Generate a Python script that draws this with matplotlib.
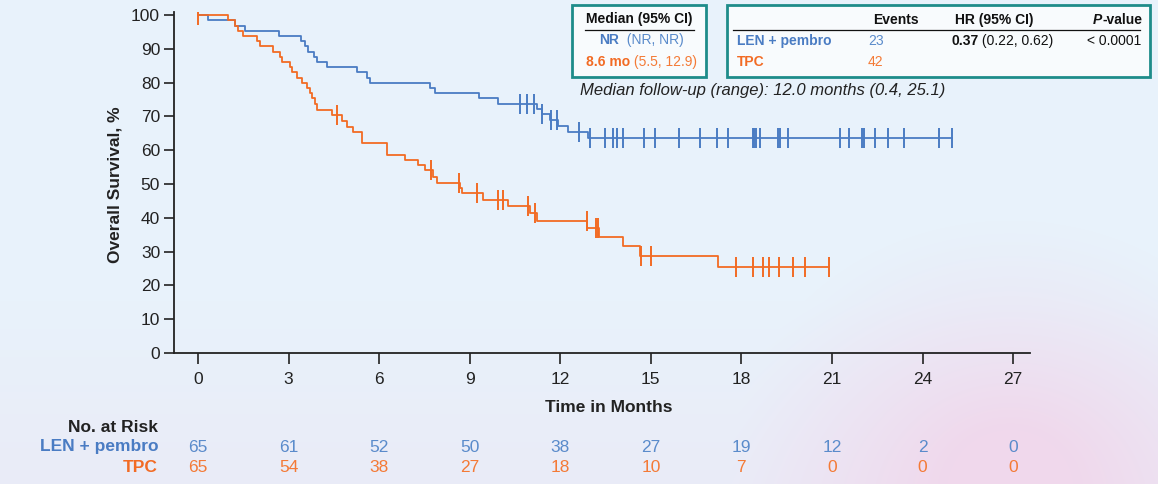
import numpy as np
import matplotlib
matplotlib.use('Agg')
import matplotlib.pyplot as plt
import matplotlib.text
from matplotlib import font_manager
from matplotlib.transforms import blended_transform_factory
from matplotlib.patches import Rectangle
from matplotlib.lines import Line2D

# ---------------- data ----------------
len_event_t = [0.33, 1.23, 1.56, 2.68, 3.41, 3.55, 3.66, 3.84, 3.95, 4.26, 5.26, 5.59, 5.70,
               7.67, 7.85, 9.31, 9.95, 11.22, 11.39, 11.66, 11.93, 12.27, 12.93]
len_surv = [98.5, 96.9, 95.4, 93.8, 92.3, 90.8, 89.2, 87.7, 86.2, 84.6, 83.1, 81.5, 80.0,
            78.5, 76.9, 75.4, 73.8, 72.2, 70.6, 68.9, 67.1, 65.4, 63.6]
len_censor_t = [10.67, 10.89, 11.13, 11.41, 11.70, 11.88, 12.63, 12.99, 13.49, 13.74, 13.87,
                14.09, 14.78, 15.14, 15.94, 16.63, 17.19, 17.57, 18.38, 18.42, 18.47, 18.62,
                19.20, 19.28, 19.53, 21.27, 21.58, 21.99, 22.07, 22.43, 22.87, 23.39, 24.53, 24.99]
len_end = 24.99

tpc_event_t = [1.00, 1.23, 1.34, 1.50, 1.94, 2.05, 2.50, 2.72, 2.77, 3.05, 3.10, 3.27, 3.44,
               3.60, 3.71, 3.77, 3.88, 3.93, 4.43, 4.76, 4.93, 5.15, 5.42, 6.25, 6.86, 7.30,
               7.52, 7.80, 7.91, 8.68, 8.74, 9.45, 10.28, 11.00, 11.22, 12.90, 13.27, 14.09,
               14.65, 17.24]
tpc_surv = [98.5, 96.9, 95.4, 93.8, 92.3, 90.8, 89.2, 87.7, 86.2, 84.6, 83.1, 81.5, 80.0,
            78.5, 76.9, 75.4, 73.8, 71.9, 70.4, 68.5, 67.0, 65.5, 62.0, 58.6, 57.2, 55.6,
            54.1, 52.2, 50.4, 48.7, 47.2, 45.3, 43.4, 41.3, 39.2, 36.9, 34.2, 31.6,
            28.8, 25.4]
tpc_censor_t = [0.0, 4.59, 7.71, 8.65, 9.23, 9.95, 10.09, 10.94, 11.17, 12.88, 13.20, 13.24,
                14.68, 15.01, 17.83, 18.38, 18.71, 18.93, 19.26, 19.70, 20.11, 20.89]
tpc_end = 20.89

x_ticks = [0, 3, 6, 9, 12, 15, 18, 21, 24, 27]
y_ticks = [0, 10, 20, 30, 40, 50, 60, 70, 80, 90, 100]
risk_len = [65, 61, 52, 50, 38, 27, 19, 12, 2, 0]
risk_tpc = [65, 54, 38, 27, 18, 10, 7, 0, 0, 0]

# ---------------- styling ----------------
BLUE = '#4a7cc3'
ORANGE = '#f26b24'
BLUE_T = '#5a8bcb'
ORANGE_T = '#f47a36'
TEAL = '#1e8c8a'

names = {f.name for f in font_manager.fontManager.ttflist}
REG = 'Liberation Sans' if 'Liberation Sans' in names else 'DejaVu Sans'
NAR = 'Liberation Sans Narrow' if 'Liberation Sans Narrow' in names else REG

W, H = 1158, 484
fig = plt.figure(figsize=(W / 100, H / 100), dpi=100)


def fx(x):
    return x / W


def fy(y):
    return 1 - y / H


# background gradient
bg = fig.add_axes([0, 0, 1, 1], zorder=-10)
yy, xx = np.mgrid[0:H, 0:W]
base = np.array([232, 242, 251]) / 255.0
pink = np.array([240, 216, 236]) / 255.0
d = np.sqrt(((xx - 1010) / 280.0) ** 2 + ((yy - 470) / 250.0) ** 2)
w = np.clip(1 - d, 0, 1) ** 1.1
w2 = np.clip((yy - 300) / 184.0, 0, 1) * 0.25
wt = np.clip(w + w2, 0, 1)[..., None]
img = base * (1 - wt) + pink * wt
bg.imshow(img, aspect='auto', extent=[0, 1, 0, 1], origin='upper')
bg.axis('off')

ax = fig.add_axes([fx(174), fy(353), fx(1030) - fx(174), fy(12) - fy(353)])
ax.set_facecolor('none')
ax.set_xlim(-0.795, 27.56)
ax.set_ylim(0, 100.9)


def draw_km(ev_t, surv, cen_t, end, color):
    t = np.array([0.0] + list(ev_t) + [end])
    s = np.array([100.0] + list(surv) + [surv[-1]])
    ax.plot(t, s, drawstyle='steps-post', color=color, lw=1.3, zorder=3)
    idx = np.searchsorted(t[:-1], np.array(cen_t), side='right') - 1
    cy = s[idx]
    ax.plot(cen_t, cy, ls='none', marker='|', ms=14, mew=1.4, color=color, zorder=3)


draw_km(len_event_t, len_surv, len_censor_t, len_end, BLUE)
draw_km(tpc_event_t, tpc_surv, tpc_censor_t, tpc_end, ORANGE)

for sp in ['top', 'right']:
    ax.spines[sp].set_visible(False)
for sp in ['left', 'bottom']:
    ax.spines[sp].set_linewidth(1.3)
    ax.spines[sp].set_color('#222222')

ax.set_xticks(x_ticks)
ax.set_yticks(y_ticks)
ax.tick_params(axis='y', length=7, width=1.2, pad=3, labelsize=12.5, colors='#222222')
ax.tick_params(axis='x', length=8, width=1.2, pad=6, labelsize=12.5, colors='#222222')
for lab in ax.get_yticklabels():
    lab.set_fontfamily(REG)
for lab in ax.get_xticklabels():
    lab.set_fontfamily(NAR)

fig.text(fx(115), fy(185), 'Overall Survival, %', rotation=90, ha='center', va='center',
         fontsize=12.5, fontweight='bold', family=REG, color='#222222')
fig.text(fx(609), fy(407), 'Time in Months', ha='center', va='center',
         fontsize=12.5, fontweight='bold', family=NAR, color='#222222')

# at-risk table
fig.text(fx(158), fy(427), 'No. at Risk', ha='right', va='center', fontsize=12.5,
         fontweight='bold', family=NAR, color='#222222')
fig.text(fx(158), fy(447), 'LEN + pembro', ha='right', va='center', fontsize=12.5,
         fontweight='bold', family=NAR, color=BLUE)
fig.text(fx(158), fy(467), 'TPC', ha='right', va='center', fontsize=12.5,
         fontweight='bold', family=NAR, color=ORANGE)
tr = blended_transform_factory(ax.transData, fig.transFigure)
for xt, a, b in zip(x_ticks, risk_len, risk_tpc):
    ax.text(xt, fy(447), str(a), transform=tr, ha='center', va='center', fontsize=12.5,
            family=NAR, color=BLUE_T, clip_on=False)
    ax.text(xt, fy(467), str(b), transform=tr, ha='center', va='center', fontsize=12.5,
            family=NAR, color=ORANGE_T, clip_on=False)

# legend boxes
for (x0, x1) in [(572, 706), (727, 1150)]:
    fig.patches.append(Rectangle((fx(x0), fy(77)), fx(x1) - fx(x0), fy(5) - fy(77),
                                 transform=fig.transFigure, facecolor='#f8fbfd',
                                 edgecolor=TEAL, lw=2, zorder=5))

FS = 10


def chain(x, y, parts, ha='left'):
    last = None
    for i, (txt, col, wt, st) in enumerate(parts):
        if i == 0:
            last = fig.text(fx(x), fy(y), txt, ha='left', va='center', fontsize=FS,
                            family=NAR, color=col, fontweight=wt, fontstyle=st, zorder=6)
        else:
            last = fig.add_artist(matplotlib.text.Annotation(
                txt, xy=(1, 0), xycoords=last, xytext=(0, 0), textcoords='offset points',
                ha='left', va='bottom', fontsize=FS, family=NAR, color=col,
                fontweight=wt, fontstyle=st, zorder=6))
    return last


fig.text(fx(639), fy(19), 'Median (95% CI)', ha='center', va='center', fontsize=FS,
         fontweight='bold', family=NAR, color='#111111', zorder=6)
chain(599, 40, [('NR', BLUE, 'bold', 'normal'), ('  (NR, NR)', BLUE_T, 'normal', 'normal')])
chain(586, 62, [('8.6 mo', ORANGE, 'bold', 'normal'), (' (5.5, 12.9)', ORANGE_T, 'normal', 'normal')])

fig.text(fx(873), fy(20), 'Events', ha='left', va='center', fontsize=FS,
         fontweight='bold', family=NAR, color='#111111', zorder=6)
fig.text(fx(955), fy(20), 'HR (95% CI)', ha='left', va='center', fontsize=FS,
         fontweight='bold', family=NAR, color='#111111', zorder=6)
chain(1093, 20, [('P', '#111111', 'bold', 'italic'), ('-value', '#111111', 'bold', 'normal')])

fig.text(fx(737), fy(41), 'LEN + pembro', ha='left', va='center', fontsize=FS,
         fontweight='bold', family=NAR, color=BLUE, zorder=6)
fig.text(fx(737), fy(62), 'TPC', ha='left', va='center', fontsize=FS,
         fontweight='bold', family=NAR, color=ORANGE, zorder=6)
fig.text(fx(868), fy(41), '23', ha='left', va='center', fontsize=FS,
         family=NAR, color=BLUE_T, zorder=6)
fig.text(fx(868), fy(62), '42', ha='left', va='center', fontsize=FS,
         family=NAR, color=ORANGE_T, zorder=6)
chain(951, 41, [('0.37', '#111111', 'bold', 'normal'), (' (0.22, 0.62)', '#111111', 'normal', 'normal')])
fig.text(fx(1141), fy(41), '< 0.0001', ha='right', va='center', fontsize=FS,
         family=NAR, color='#111111', zorder=6)

# underlines
for (xa, xb) in [(585, 694), (733, 1140)]:
    fig.add_artist(Line2D([fx(xa), fx(xb)], [fy(29.5), fy(29.5)], transform=fig.transFigure,
                          color='#111111', lw=0.9, zorder=7))

fig.text(fx(580), fy(91), 'Median follow-up (range): 12.0 months (0.4, 25.1)', ha='left',
         va='center', fontsize=12, fontstyle='italic', family=REG, color='#222222', zorder=6)

fig.savefig('out.png', dpi=100)
